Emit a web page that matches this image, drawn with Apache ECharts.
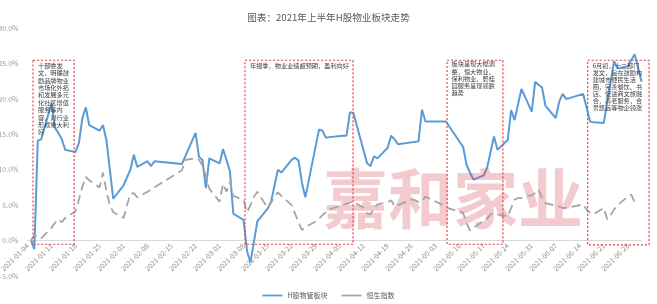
<!DOCTYPE html>
<html><head><meta charset="utf-8">
<script src="https://cdn.jsdelivr.net/npm/echarts@6/dist/echarts.min.js"></script>
<style>html,body{margin:0;padding:0;background:#fff}#c{width:657px;height:304px}</style>
</head><body><div id="c"></div>
<script>
const startDate = '2021-01-04';
const seriesNames = ['H股物管板块', '恒生指数'];
const blueDates = ['01-05','01-06','01-07','01-08','01-11','01-12','01-13','01-14','01-15','01-18','01-19','01-20','01-21','01-22','01-25','01-26','01-27','01-28','01-29',
 '02-01','02-02','02-03','02-04','02-05','02-08','02-09','02-10','02-18','02-22','02-23','02-24','02-25','02-26',
 '03-01','03-02','03-03','03-04','03-05','03-08','03-09','03-10','03-12','03-15','03-16','03-18','03-19','03-22','03-23','03-24','03-25','03-26','03-30','03-31',
 '04-01','04-02','04-06','04-07','04-08','04-09','04-13','04-14','04-15','04-16','04-19','04-20','04-21','04-22','04-28','04-29','04-30',
 '05-06','05-11','05-12','05-13','05-14','05-17','05-18','05-20','05-21','05-24','05-25','05-26','05-28','05-31',
 '06-01','06-02','06-03','06-04','06-07','06-08','06-09','06-10','06-11','06-15','06-17','06-18','06-21','06-24','06-25','06-28','06-30','07-02'];
const blueValues = [0.0,-1.2,14.1,14.3,19.4,15.9,15.2,14.3,12.8,12.5,13.8,17.3,18.8,16.3,15.5,16.3,14.2,10.0,5.9,
 7.8,8.9,10.0,12.1,10.4,11.2,10.5,11.2,10.8,15.2,11.8,11.4,7.4,11.6,
 10.9,12.9,11.4,9.8,3.8,2.9,-1.5,-3.1,2.7,4.5,5.5,10.0,9.6,11.4,11.7,11.3,8.2,6.1,15.7,15.5,
 14.5,14.6,14.8,14.8,18.1,18.0,10.9,10.5,11.9,11.6,13.1,14.8,14.3,13.6,14.0,18.5,16.8,
 16.8,13.2,10.7,9.6,8.6,9.2,10.3,14.7,12.8,14.2,18.4,17.0,21.4,18.2,
 22.4,22.0,21.6,19.0,17.3,19.6,20.7,20.0,20.1,20.7,16.8,16.7,16.6,25.3,24.3,24.6,26.3,22.4];
const greyDates = ['01-05','01-06','01-07','01-08','01-11','01-12','01-13','01-14','01-15','01-18','01-19','01-20','01-21','01-22','01-25','01-26','01-27','01-28','01-29',
 '02-01','02-02','02-03','02-04','02-05','02-08','02-09','02-10','02-18','02-19','02-22','02-23','02-24','02-25','02-26',
 '03-01','03-02','03-03','03-04','03-05','03-08','03-09','03-10','03-11','03-12','03-15','03-16','03-17','03-18','03-19','03-22','03-23','03-24','03-25','03-26','03-29','03-30','03-31',
 '04-01','04-02','04-06','04-07','04-08','04-09','04-12','04-13','04-14','04-15','04-16','04-19','04-20','04-21','04-22','04-23','04-26','04-27','04-28','04-29','04-30',
 '05-06','05-07','05-10','05-11','05-12','05-13','05-14','05-17','05-18','05-19','05-20','05-21','05-24','05-25','05-26','05-27','05-28','05-31',
 '06-01','06-02','06-03','06-04','06-07','06-08','06-09','06-10','06-11','06-15','06-16','06-17','06-18','06-21','06-22','06-23','06-24','06-25','06-28','06-29','06-30'];
const greyValues = [0.0,0.8,0.6,0.3,1.8,2.5,3.0,2.6,3.2,4.1,5.8,7.6,9.0,8.5,7.5,9.6,7.0,5.0,4.0,
 3.2,5.0,6.6,6.7,6.1,6.9,7.2,7.5,9.9,11.4,11.6,11.4,10.6,9.1,7.3,
 5.5,8.0,6.9,8.3,6.3,5.7,4.0,5.0,6.2,6.9,4.6,5.3,6.2,6.8,6.3,5.0,3.8,2.6,1.5,1.9,2.7,3.1,3.6,
 4.0,4.4,5.0,5.2,5.4,5.5,4.6,3.8,3.7,4.6,5.1,5.4,5.7,4.8,5.0,5.2,5.8,5.7,5.4,5.6,6.2,
 4.8,4.5,4.1,3.9,2.5,1.4,1.8,2.8,3.1,3.7,3.9,3.7,3.4,4.6,5.8,6.0,6.0,6.4,
 6.7,7.2,6.0,5.3,4.9,4.8,4.6,4.6,4.7,5.1,4.4,3.9,3.7,4.6,3.0,3.6,4.4,5.0,6.2,6.5,5.4];
const yMin = -5, yMax = 30, yStep = 5;
const xMaxDay = 179, xStepDays = 7;

const DAY = 86400000;
const t0 = Date.parse(startDate);
function dayOf(md){ return (Date.parse('2021-' + md) - t0) / DAY; }
function pairs(ds, vs){ return ds.map((d,i)=>[dayOf(d), vs[i]]); }
const FONT = '"Noto Sans CJK SC","Noto Sans",sans-serif';
const gridTop = 28, gridBottom = 28, H = 304;
const gridH = H - gridTop - gridBottom;
// move x axis (line + labels) up to the zero level of the value scale
const zeroOffset = -(0 - yMin) / (yMax - yMin) * gridH;

const chart = echarts.init(document.getElementById('c'), null, {renderer:'canvas'});
chart.setOption({
  animation:false,
  backgroundColor:'#ffffff',
  textStyle:{fontFamily:FONT},
  title:{text:'图表：2021年上半年H股物业板块走势', left:'center', top:8,
    textStyle:{fontSize:9.6, fontWeight:'normal', color:'#595959', fontFamily:FONT}},
  legend:{top:287, left:'center', icon:'rect', itemWidth:20, itemHeight:1.8, itemGap:14,
    textStyle:{fontSize:7, color:'#595959', fontFamily:FONT},
    data:seriesNames},
  grid:{left:27.5, right:15.5, top:gridTop, bottom:gridBottom, containLabel:false, outerBoundsMode:'none'},
  xAxis:{type:'value', min:0, max:xMaxDay, interval:xStepDays, position:'bottom', offset:zeroOffset,
    axisLine:{show:true, onZero:false, lineStyle:{color:'#d9d9d9', width:1}},
    axisTick:{show:false}, splitLine:{show:false},
    axisLabel:{rotate:45, fontSize:7, color:'#8a8a8a', margin:4, showMaxLabel:false, hideOverlap:false, fontFamily:FONT,
      formatter:function(v){ if (v % xStepDays !== 0) return ''; return new Date(t0 + v*DAY).toISOString().slice(0,10); }}},
  yAxis:{type:'value', min:yMin, max:yMax, interval:yStep,
    axisLine:{show:false}, axisTick:{show:false}, splitLine:{show:false},
    axisLabel:{fontSize:7, color:'#a0a0a0', margin:9, fontFamily:FONT,
      formatter:function(v){ return v.toFixed(1) + '%'; }}},
  series:[
    {name:seriesNames[0], type:'line', data:pairs(blueDates, blueValues), symbol:'none', showSymbol:false, z:2,
      lineStyle:{color:'#5b9bd5', width:2}, itemStyle:{color:'#5b9bd5'}},
    {name:seriesNames[1], type:'line', data:pairs(greyDates, greyValues), symbol:'none', showSymbol:false, z:4,
      lineStyle:{color:'#a5a5a5', width:1.8, type:[9,5]}, itemStyle:{color:'#a5a5a5'}}
  ]
});

const notes = [
  {d0:1.6, d1:13.6, top:25.45, bot:-0.52, dx:5, dy:1.6, lh:7.4,
   text:'十部委发\n文，明确鼓\n励品牌物业\n市场化外拓\n和发展多元\n化社区增值\n服务等内\n容，对行业\n形成重大利\n好'},
  {d0:63.4, d1:94.9, top:25.45, bot:-0.52, dx:5, dy:1.6, lh:7.4,
   text:'年报季，物业业绩超预期，盈利向好'},
  {d0:122.3, d1:138.6, top:25.45, bot:-0.52, dx:4.5, dy:0, lh:7.3,
   text:'板块呈现大幅调\n整，恒大物业、\n保利物业、碧桂\n园服务呈现领跌\n趋势'},
  {d0:163.3, d1:181.2, top:25.45, bot:-0.6, dx:5, dy:1.6, lh:7.05,
   text:'6月初，十二部门\n发文，旨在鼓励构\n建城市便民生活\n圈，完善餐饮、书\n店、促进商文旅融\n合，养老服务，合\n景悠远等物企领涨'}
];
const g = [];
notes.forEach(function(n){
  const p0 = chart.convertToPixel({gridIndex:0}, [n.d0, n.top]);
  const p1 = chart.convertToPixel({gridIndex:0}, [n.d1, n.bot]);
  g.push({type:'rect', z:5, shape:{x:p0[0], y:p0[1], width:p1[0]-p0[0], height:p1[1]-p0[1]},
    style:{fill:'none', stroke:'#e34848', lineWidth:1.2, lineDash:[2.2,1.8]}});
  g.push({type:'text', z:5, x:p0[0]+n.dx, y:p0[1]+n.dy,
    style:{text:n.text, fontSize:6.2, lineHeight:n.lh, fill:'#404040', fontFamily:FONT, verticalAlign:'top', align:'left'}});
});
g.push({type:'text', z:3, x:453, y:198,
  style:{text:'嘉和家业', fontSize:65, fontWeight:'bold', fill:'rgba(214,77,90,0.29)', fontFamily:FONT, align:'center', verticalAlign:'middle'}});
chart.setOption({graphic:g});
</script></body></html>
